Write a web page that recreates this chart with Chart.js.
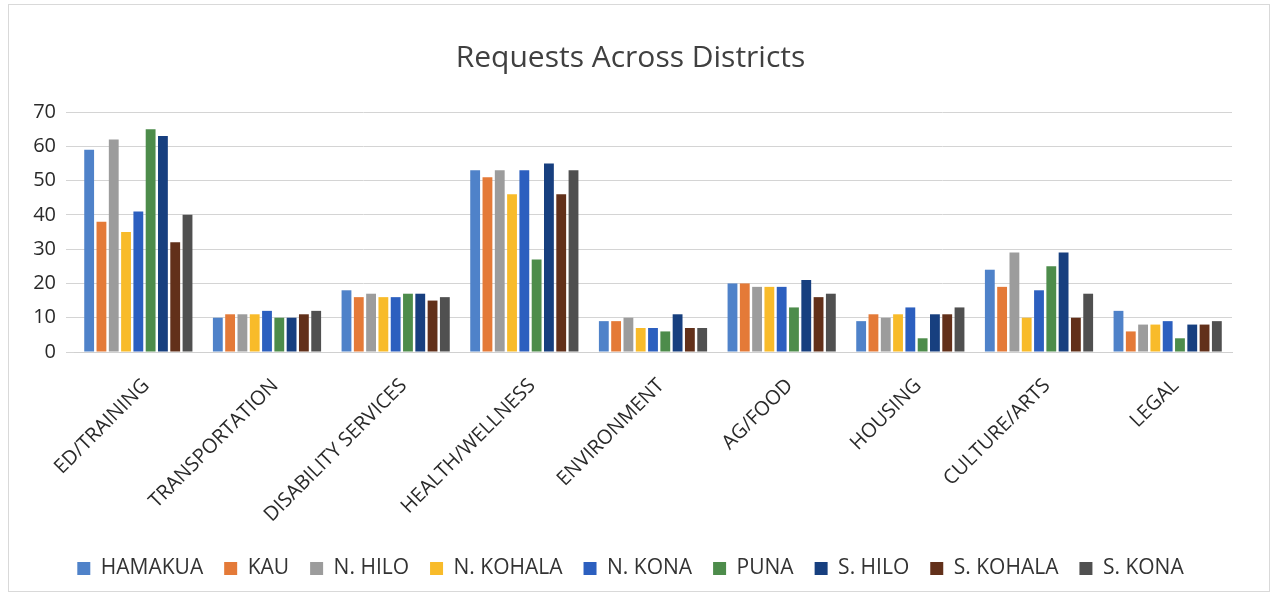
<!DOCTYPE html>
<html>
<head>
<meta charset="utf-8">
<script src="https://cdn.jsdelivr.net/npm/chart.js@4/dist/chart.umd.min.js"></script>
<style>
  html, body { margin: 0; padding: 0; background: #fff; }
  #wrap { position: absolute; left: 8px; top: 4px; width: 1262px; height: 588px; border: 1px solid #d9d9d9; box-sizing: border-box; }
  canvas { display: block; }
</style>
</head>
<body>
<div id="wrap"><canvas id="chart"></canvas></div>
<script>
const categories = ['ED/TRAINING', 'TRANSPORTATION', 'DISABILITY SERVICES', 'HEALTH/WELLNESS', 'ENVIRONMENT', 'AG/FOOD', 'HOUSING', 'CULTURE/ARTS', 'LEGAL'];

const districts = ['HAMAKUA', 'KAU', 'N. HILO', 'N. KOHALA', 'N. KONA', 'PUNA', 'S. HILO', 'S. KOHALA', 'S. KONA'];

// values per district, in category order
const hamakua  = [59, 10, 18, 53, 9, 20, 9, 24, 12];
const kau      = [38, 11, 16, 51, 9, 20, 11, 19, 6];
const nHilo    = [62, 11, 17, 53, 10, 19, 10, 29, 8];
const nKohala  = [35, 11, 16, 46, 7, 19, 11, 10, 8];
const nKona    = [41, 12, 16, 53, 7, 19, 13, 18, 9];
const puna     = [65, 10, 17, 27, 6, 13, 4, 25, 4];
const sHilo    = [63, 10, 17, 55, 11, 21, 11, 29, 8];
const sKohala  = [32, 11, 15, 46, 7, 16, 11, 10, 8];
const sKona    = [40, 12, 16, 53, 7, 17, 13, 17, 9];

const seriesValues = [hamakua, kau, nHilo, nKohala, nKona, puna, sHilo, sKohala, sKona];
const seriesColors = ['#4f82c9', '#e47a38', '#9c9c9c', '#f8bb2a', '#2c5fbf', '#4d8c4b', '#173f7f', '#62301a', '#505050'];

const yTicks = [0, 10, 20, 30, 40, 50, 60, 70];

const wrap = document.getElementById('wrap');
const canvas = document.getElementById('chart');
canvas.width = wrap.clientWidth;
canvas.height = wrap.clientHeight;

new Chart(canvas.getContext('2d'), {
    type: 'bar',
    data: {
        labels: categories,
        datasets: districts.map((name, i) => ({
            label: name,
            data: seriesValues[i],
            backgroundColor: seriesColors[i],
            borderWidth: 0,
            barPercentage: 0.8,
            categoryPercentage: 0.86
        }))
    },
    options: {
        responsive: false,
        animation: false,
        layout: { padding: { left: 20, right: 37, top: 14, bottom: 2 } },
        plugins: {
            title: {
                display: true,
                text: 'Requests Across Districts',
                color: '#404040',
                font: { family: 'Open Sans', size: 30, weight: 'normal' },
                padding: { top: 21, bottom: 36 }
            },
            legend: {
                position: 'bottom',
                labels: {
                    color: '#333333',
                    font: { family: 'Open Sans', size: 21 },
                    boxWidth: 13,
                    boxHeight: 13,
                    padding: 21
                }
            },
            tooltip: { enabled: false }
        },
        scales: {
            x: {
                grid: { display: false },
                border: { display: true, color: '#d0d0d0' },
                ticks: {
                    color: '#2a2a2a',
                    font: { family: 'Open Sans', size: 20 },
                    maxRotation: 45,
                    minRotation: 45,
                    autoSkip: false,
                    padding: 14,
                    labelOffset: 8
                },
                afterFit: axis => { axis.height = 185; }
            },
            y: {
                min: yTicks[0],
                max: yTicks[yTicks.length - 1],
                afterBuildTicks: axis => { axis.ticks = yTicks.map(v => ({ value: v })); },
                grid: { color: '#d4d4d4' },
                border: { display: false },
                ticks: {
                    color: '#2a2a2a',
                    font: { family: 'Open Sans', size: 20 },
                    padding: 10
                },
                afterFit: axis => { axis.width = 45; }
            }
        }
    }
});
</script>
</body>
</html>
